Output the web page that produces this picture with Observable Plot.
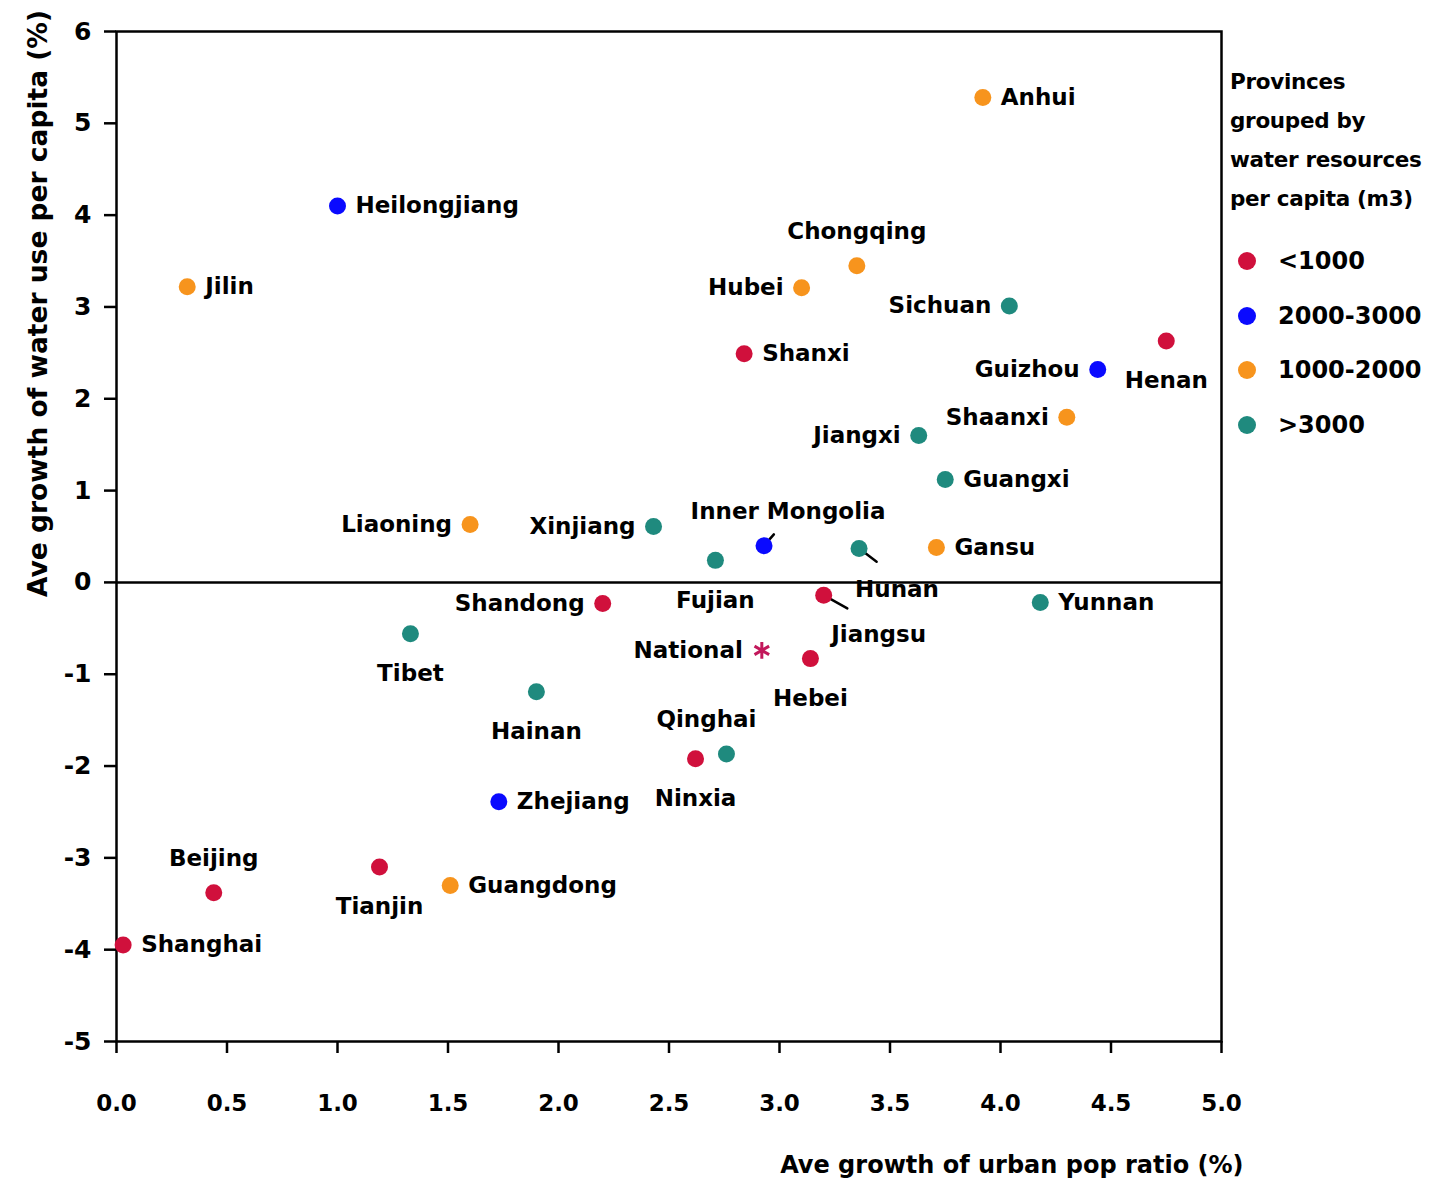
<!DOCTYPE html>
<html><head><meta charset="utf-8">
<script src="https://cdn.jsdelivr.net/npm/d3@7"></script>
<script src="https://cdn.jsdelivr.net/npm/@observablehq/plot@0.6"></script>
<style>
body{margin:0;background:#fff;font-family:"DejaVu Sans",sans-serif;}
#wrap{position:relative;width:1435px;height:1182px;}
#legend{position:absolute;left:1230px;top:62px;font-weight:bold;color:#000;}
#legend .title{font-size:21.5px;line-height:39px;letter-spacing:-0.3px;white-space:nowrap;}
#legend .items{position:absolute;top:172px;left:0;}
#legend .item{display:flex;align-items:center;height:54.5px;font-size:24px;white-space:nowrap;}
#legend .item svg{margin-left:8px;margin-right:22px;}
</style></head><body><div id="wrap"></div>
<script>
// ---- data ----
const provinces = ["Anhui","Heilongjiang","Jilin","Chongqing","Hubei","Sichuan","Shanxi","Henan","Guizhou","Shaanxi","Jiangxi","Guangxi","Liaoning","Xinjiang","Inner Mongolia","Fujian","Hunan","Gansu","Yunnan","Shandong","Jiangsu","Tibet","Hebei","Hainan","Qinghai","Ninxia","Zhejiang","Beijing","Tianjin","Guangdong","Shanghai"];
const urbanGrowth = [3.92,1.00,0.32,3.35,3.10,4.04,2.84,4.75,4.44,4.30,3.63,3.75,1.60,2.43,2.93,2.71,3.36,3.71,4.18,2.20,3.20,1.33,3.14,1.90,2.76,2.62,1.73,0.44,1.19,1.51,0.03];
const waterGrowth = [5.28,4.10,3.22,3.45,3.21,3.01,2.49,2.63,2.32,1.80,1.60,1.12,0.63,0.61,0.40,0.24,0.37,0.38,-0.22,-0.23,-0.14,-0.56,-0.83,-1.19,-1.87,-1.92,-2.39,-3.38,-3.10,-3.30,-3.95];
const groups = ["1000-2000","2000-3000","1000-2000","1000-2000","1000-2000",">3000","<1000","<1000","2000-3000","1000-2000",">3000",">3000","1000-2000",">3000","2000-3000",">3000",">3000","1000-2000",">3000","<1000","<1000",">3000","<1000",">3000",">3000","<1000","2000-3000","<1000","<1000","1000-2000","<1000"];
const nationalLabel = "National";
const nationalUrban = [2.92];
const nationalWater = [-0.74];
const groupLabels = ["<1000","2000-3000","1000-2000",">3000"];
const groupColors = ["#d0103c","#0a0aff","#f7941d","#1f8a7e"];
const nationalColor = "#c2185b";
const xTicks = [0,0.5,1,1.5,2,2.5,3,3.5,4,4.5,5];
const yTicks = [-5,-4,-3,-2,-1,0,1,2,3,4,5,6];
const xLabel = "Ave growth of urban pop ratio (%)";
const yLabel = "Ave growth of water use per capita (%)";
const legendTitle = ["Provinces","grouped by","water resources","per capita (m3)"];

// ---- label placement (style) ----
const placement = {
  right: {textAnchor:"start", dx:18, dy:0},
  left: {textAnchor:"end", dx:-18, dy:0},
  top: {textAnchor:"middle", dx:0, dy:-34},
  bottom: {textAnchor:"middle", dx:0, dy:40},
  topLeft: {textAnchor:"middle", dx:-20, dy:-34},
  topRight: {textAnchor:"middle", dx:24, dy:-34},
  hunan: {textAnchor:"middle", dx:38, dy:41},
  jiangsu: {textAnchor:"middle", dx:55, dy:39}
};
const side = {
  "Anhui":"right","Heilongjiang":"right","Jilin":"right","Chongqing":"top","Hubei":"left","Sichuan":"left",
  "Shanxi":"right","Henan":"bottom","Guizhou":"left","Shaanxi":"left","Jiangxi":"left","Guangxi":"right",
  "Liaoning":"left","Xinjiang":"left","Inner Mongolia":"topRight","Fujian":"bottom","Hunan":"hunan","Gansu":"right",
  "Yunnan":"right","Shandong":"left","Jiangsu":"jiangsu","Tibet":"bottom","Hebei":"bottom","Hainan":"bottom",
  "Qinghai":"topLeft","Ninxia":"bottom","Zhejiang":"right","Beijing":"top","Tianjin":"bottom","Guangdong":"right","Shanghai":"right"
};
const leaders = {"Inner Mongolia": {rotate:41, length:15}, "Hunan": {rotate:127, length:22}, "Jiangsu": {rotate:119, length:27}};

const rows = provinces.map((p,i)=>({name:p, x:urbanGrowth[i], y:waterGrowth[i], group:groups[i]}));
const national = nationalUrban.map((v,i)=>({name:nationalLabel, x:v, y:nationalWater[i]}));

const leaderShape = {draw(context, l){ context.moveTo(0,-6); context.lineTo(0,-l); }};

const textMarks = Object.keys(placement).map(k => Plot.text(rows.filter(d=>side[d.name]===k), {
  x:"x", y:"y", text:"name", fill:"#000", ...placement[k], fontWeight:"bold"
}));
const leaderMarks = Object.keys(leaders).map(n => Plot.vector(rows.filter(d=>d.name===n), {
  x:"x", y:"y", anchor:"start", shape:leaderShape, length:leaders[n].length, rotate:leaders[n].rotate, stroke:"#000", strokeWidth:2.5
}));

const chart = Plot.plot({
  width:1435, height:1182,
  marginLeft:116, marginRight:214, marginTop:31, marginBottom:141,
  style:{fontFamily:"'DejaVu Sans', sans-serif", fontSize:"23px", fontWeight:"bold", color:"#000", background:"#fff"},
  x:{domain:[0,5]},
  y:{domain:[-5,6]},
  color:{domain:groupLabels, range:groupColors},
  marks:[
    Plot.ruleY([0], {stroke:"#000", strokeWidth:2.5}),
    Plot.frame({stroke:"#000", strokeWidth:2.5}),
    Plot.axisX({ticks:xTicks, tickFormat:d3.format(".1f"), tickSize:12, tickPadding:41, strokeWidth:2.5, label:null, fill:"#000"}),
    Plot.axisY({ticks:yTicks, tickFormat:d=>String(d), tickSize:12, tickPadding:13, strokeWidth:2.5, label:null, fill:"#000", fontSize:25}),
    Plot.text([xLabel], {frameAnchor:"bottom-right", textAnchor:"end", dx:22, dy:131, text:d=>d, fill:"#000", fontSize:24}),
    Plot.text([yLabel], {frameAnchor:"top-left", rotate:-90, textAnchor:"middle", dx:-88, dy:272, text:d=>d, fill:"#000", fontSize:26.5}),
    ...leaderMarks,
    Plot.dot(rows, {x:"x", y:"y", fill:"group", r:8.5}),
    Plot.dot(national, {x:"x", y:"y", symbol:"asterisk", stroke:nationalColor, strokeWidth:3, r:8}),
    Plot.text(national, {x:"x", y:"y", text:"name", textAnchor:"end", dx:-19, fill:"#000"}),
    ...textMarks
  ]
});
const wrap = document.getElementById("wrap");
wrap.appendChild(chart);

// legend
const legend = document.createElement("div");
legend.id = "legend";
const title = document.createElement("div");
title.className = "title";
title.innerHTML = legendTitle.join("<br>");
legend.appendChild(title);
const items = document.createElement("div");
items.className = "items";
groupLabels.forEach((g,i)=>{
  const it = document.createElement("div");
  it.className = "item";
  it.innerHTML = `<svg width="18" height="18"><circle cx="9" cy="9" r="9" fill="${groupColors[i]}"></circle></svg><span></span>`;
  it.querySelector("span").textContent = g;
  items.appendChild(it);
});
legend.appendChild(items);
wrap.appendChild(legend);
</script>
</body></html>
